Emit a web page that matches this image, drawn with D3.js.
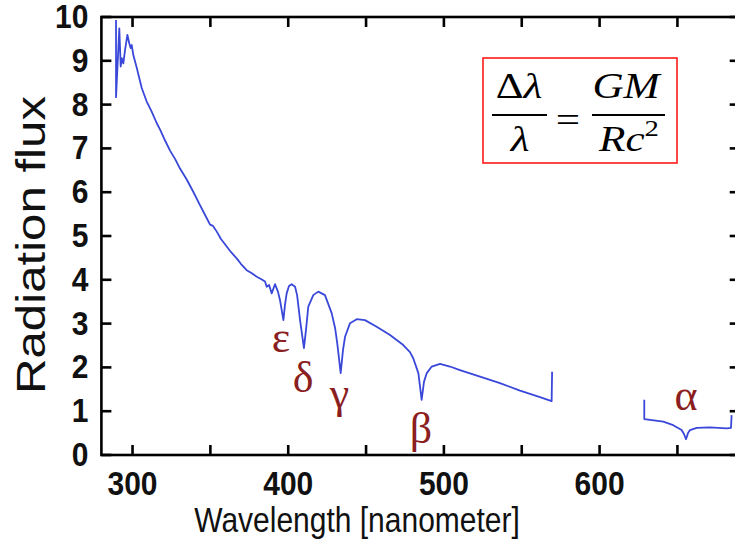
<!DOCTYPE html>
<html>
<head>
<meta charset="utf-8">
<script src="https://cdn.jsdelivr.net/npm/d3@7"></script>
<style>
  html, body { margin: 0; padding: 0; background: #fff; }
  svg { display: block; }
</style>
</head>
<body>
<svg id="chart" width="735" height="546"></svg>
<script>
// ---- data ----
const wavelength1 = [289.4, 289.4, 291.5, 292.4, 293.1, 294.1, 295.2, 296.7, 297.9, 298.8, 299.5, 300.5, 302.7, 305.9, 309.1, 312.3, 315.5, 317.7, 320.9, 324.1, 327.3, 330.5, 334.8, 339.0, 343.4, 346.6, 349.8, 351.7, 354.1, 356.8, 360.5, 363.3, 366.9, 369.7, 373.3, 376.1, 379.8, 382.5, 385.1, 386.2, 387.7, 389.4, 391.5, 393.4, 394.7, 396.9, 397.9, 399.0, 400.5, 402.2, 404.4, 405.7, 407.6, 410.1, 411.4, 412.9, 416.1, 419.3, 423.6, 427.9, 430.1, 431.5, 433.7, 435.2, 436.5, 439.7, 444.0, 449.3, 456.8, 465.4, 473.9, 478.2, 480.3, 483.6, 485.7, 487.2, 489.0, 492.2, 497.5, 503.9, 510.3, 523.2, 536.0, 548.9, 561.7, 569.2, 569.5];
const flux1 = [9.93, 8.17, 9.74, 8.87, 9.06, 8.94, 9.25, 9.59, 9.40, 9.29, 9.36, 9.13, 8.84, 8.38, 8.07, 7.84, 7.58, 7.43, 7.18, 6.95, 6.76, 6.54, 6.29, 6.01, 5.70, 5.48, 5.26, 5.23, 5.10, 4.93, 4.76, 4.63, 4.49, 4.36, 4.22, 4.16, 4.07, 4.02, 3.96, 3.84, 3.88, 3.69, 3.90, 3.73, 3.54, 3.08, 3.42, 3.69, 3.86, 3.90, 3.84, 3.65, 3.08, 2.44, 2.85, 3.39, 3.65, 3.73, 3.65, 3.24, 2.90, 2.55, 1.87, 2.40, 2.70, 3.01, 3.10, 3.08, 2.93, 2.74, 2.51, 2.35, 2.21, 1.87, 1.26, 1.67, 1.87, 2.02, 2.08, 2.02, 1.94, 1.79, 1.64, 1.47, 1.32, 1.23, 1.90];
const wavelength2 = [628.7, 628.7, 632.4, 640.9, 647.3, 652.7, 654.2, 655.5, 656.8, 658.1, 662.4, 670.9, 681.6, 684.4, 684.8];
const flux2 = [1.26, 0.82, 0.80, 0.76, 0.68, 0.57, 0.48, 0.36, 0.50, 0.57, 0.62, 0.63, 0.61, 0.62, 0.91];

const xTicks = [300, 350, 400, 450, 500, 550, 600, 650];
const xTickLabels = [300, 400, 500, 600];
const yTicks = [0, 1, 2, 3, 4, 5, 6, 7, 8, 9, 10];

const lineNames = ["ε", "δ", "γ", "β", "α"];
const lineLabelWavelength = [395.4, 409.5, 432.9, 485.3, 655.5];
const lineLabelFlux = [2.35, 1.44, 1.08, 0.28, 1.03];

const xTitle = "Wavelength [nanometer]";
const yTitle = "Radiation flux";

// ---- drawing ----
const svg = d3.select("#chart");
svg.append("rect").attr("width", 735).attr("height", 546).attr("fill", "#fff");

const x = d3.scaleLinear().domain([280, 690]).range([101.4, 739.7]);
const y = d3.scaleLinear().domain([0, 10]).range([455, 17]);

const L = x.range()[0], R = x.range()[1], B = y.range()[0], T = y.range()[1];
const axisColor = "#000";
const sans = "'Liberation Sans', Arial, Helvetica, sans-serif";
const serif = "'Liberation Serif', 'Times New Roman', serif";

// frame
svg.append("rect").attr("x", L).attr("y", T).attr("width", R - L).attr("height", B - T)
  .attr("fill", "none").attr("stroke", axisColor).attr("stroke-width", 2.6);

// ticks
const g = svg.append("g").attr("stroke", axisColor).attr("stroke-width", 2.6);
xTicks.forEach(t => {
  g.append("line").attr("x1", x(t)).attr("x2", x(t)).attr("y1", B).attr("y2", B - 10);
  g.append("line").attr("x1", x(t)).attr("x2", x(t)).attr("y1", T).attr("y2", T + 10);
});
yTicks.forEach(t => {
  g.append("line").attr("x1", L).attr("x2", L + 10).attr("y1", y(t)).attr("y2", y(t));
  g.append("line").attr("x1", R).attr("x2", R - 10).attr("y1", y(t)).attr("y2", y(t));
});

// tick labels
svg.append("g").selectAll("text").data(xTickLabels).join("text")
  .attr("transform", d => `translate(${x(d)},${B + 40}) scale(1,1.1)`)
  .attr("text-anchor", "middle")
  .attr("font-family", sans).attr("font-weight", "bold").attr("font-size", 30)
  .attr("fill", "#111")
  .text(d => d);

svg.append("g").selectAll("text").data(yTicks).join("text")
  .attr("transform", d => `translate(${L - 13},${y(d) + 11}) scale(1,1.08)`)
  .attr("text-anchor", "end")
  .attr("font-family", sans).attr("font-weight", "bold").attr("font-size", 30)
  .attr("fill", "#111")
  .text(d => d);

// axis titles
svg.append("text")
  .attr("transform", "translate(357,532) scale(1,1.18)")
  .attr("text-anchor", "middle")
  .attr("font-family", sans).attr("font-size", 30).attr("fill", "#111")
  .text(xTitle);

svg.append("text")
  .attr("transform", "translate(45,245) rotate(-90) scale(1.2,1)")
  .attr("text-anchor", "middle")
  .attr("font-family", sans).attr("font-size", 41).attr("fill", "#111")
  .text(yTitle);

// spectrum lines
const line = d3.line().x(d => x(d[0])).y(d => y(d[1]));
const seg1 = wavelength1.map((w, i) => [w, flux1[i]]);
const seg2 = wavelength2.map((w, i) => [w, flux2[i]]);
[seg1, seg2].forEach(seg => {
  svg.append("path").datum(seg).attr("d", line)
    .attr("fill", "none").attr("stroke", "#3a48da").attr("stroke-width", 1.8)
    .attr("stroke-linejoin", "round");
});

// line labels
svg.append("g").selectAll("text").data(lineNames).join("text")
  .attr("x", (d, i) => x(lineLabelWavelength[i]))
  .attr("y", (d, i) => y(lineLabelFlux[i]))
  .attr("text-anchor", "middle")
  .attr("font-family", serif)
  .attr("font-size", 44).attr("fill", "#8b1e1e")
  .text(d => d);

// formula box
const fbox = svg.append("g");
fbox.append("rect").attr("x", 483).attr("y", 58).attr("width", 194).attr("height", 105)
  .attr("fill", "#fff").attr("stroke", "#ff1a1a").attr("stroke-width", 1.6);

function ftext(tx, ty, parts, size) {
  const t = fbox.append("text")
    .attr("transform", `translate(${tx},${ty}) scale(1.2,1)`)
    .attr("text-anchor", "middle")
    .attr("font-family", serif).attr("font-size", size || 36).attr("fill", "#000");
  parts.forEach(p => {
    const s = t.append("tspan").text(p[0]);
    if (p[1]) s.attr("font-style", "italic");
    if (p[2]) s.attr("font-size", p[2]).attr("dy", p[3] || 0);
  });
  return t;
}
ftext(519, 98, [["Δ", false], ["λ", true]]);
fbox.append("line").attr("x1", 492).attr("x2", 547).attr("y1", 115).attr("y2", 115)
  .attr("stroke", "#000").attr("stroke-width", 1.8);
ftext(520, 151, [["λ", true]]);
ftext(568, 132, [["=", false]]);
ftext(626, 98, [["GM", true]]);
fbox.append("line").attr("x1", 592).attr("x2", 665).attr("y1", 115).attr("y2", 115)
  .attr("stroke", "#000").attr("stroke-width", 1.8);
ftext(629, 151, [["Rc", true], ["2", false, 24, -15]]);
</script>
</body>
</html>
